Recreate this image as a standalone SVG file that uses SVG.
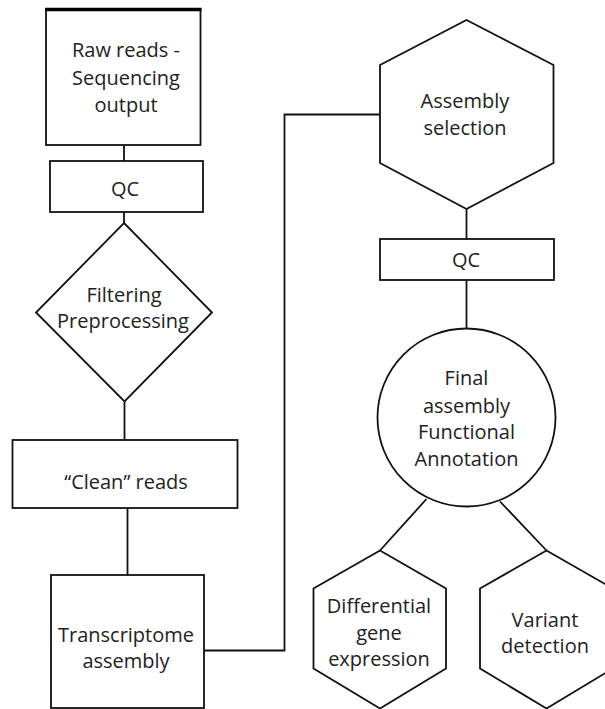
<svg xmlns="http://www.w3.org/2000/svg" width="605" height="709" viewBox="0 0 605 709">
<style>
.s{fill:#fff;stroke:#111;stroke-width:1.8}
.c{fill:none;stroke:#111;stroke-width:1.8}
text{font-family:"Open Sans","DejaVu Sans",sans-serif;font-size:20px;fill:#222;text-anchor:middle}
</style>
<rect width="605" height="709" fill="#fff"/>
<g id="connectors">
<line class="c" x1="124" y1="145" x2="124" y2="161"/>
<line class="c" x1="124" y1="212" x2="124" y2="223"/>
<line class="c" x1="124.5" y1="401.5" x2="124.5" y2="440"/>
<line class="c" x1="127.5" y1="508" x2="127.5" y2="575"/>
<polyline class="c" points="204,650.5 284.5,650.5 284.5,114.5 380,114.5"/>
<line class="c" x1="466.5" y1="209" x2="466.5" y2="239"/>
<line class="c" x1="466.5" y1="280" x2="466.5" y2="328.5"/>
<line class="c" x1="426.5" y1="499" x2="380" y2="550.5"/>
<line class="c" x1="500" y1="501.5" x2="546.5" y2="550.5"/>
</g>
<g id="raw-reads">
<rect class="s" x="46" y="9.5" width="154.5" height="135.5"/>
<line x1="45" y1="9.5" x2="201.5" y2="9.5" stroke="#000" stroke-width="3.5"/>
<text x="126" y="57">Raw reads -</text>
<text x="126" y="85">Sequencing</text>
<text x="126" y="112">output</text>
</g>
<g id="qc1">
<rect class="s" x="50" y="161" width="153" height="51"/>
<text x="125" y="196">QC</text>
</g>
<g id="filtering">
<polygon class="s" points="124,223 212,312.5 124.5,401.5 36,312.5"/>
<text x="124" y="302">Filtering</text>
<text x="123" y="328">Preprocessing</text>
</g>
<g id="clean-reads">
<rect class="s" x="12.5" y="440" width="225" height="68"/>
<text x="126" y="489">“Clean” reads</text>
</g>
<g id="transcriptome">
<rect class="s" x="51" y="575" width="153" height="133"/>
<text x="126" y="642">Transcriptome</text>
<text x="126" y="668">assembly</text>
</g>
<g id="assembly-selection">
<polygon class="s" points="466.5,20 553.5,65 553.5,163 466.5,209 380,163 380,65"/>
<text x="465" y="108">Assembly</text>
<text x="465" y="135">selection</text>
</g>
<g id="qc2">
<rect class="s" x="380" y="239" width="174" height="41"/>
<text x="466" y="267">QC</text>
</g>
<g id="final-assembly">
<circle class="s" cx="466.5" cy="417.5" r="89"/>
<text x="466.5" y="385">Final</text>
<text x="466.5" y="413">assembly</text>
<text x="466.5" y="439">Functional</text>
<text x="466.5" y="466">Annotation</text>
</g>
<g id="differential">
<polygon class="s" points="380,550.5 446,588.5 446,668.5 380,708.5 313.5,668.5 313.5,588.5"/>
<text x="379" y="613">Differential</text>
<text x="379" y="640">gene</text>
<text x="379" y="666">expression</text>
</g>
<g id="variant">
<polygon class="s" points="546.5,550.5 613,588.5 613,668.5 546.5,708.5 480,668.5 480,588.5"/>
<text x="545" y="627">Variant</text>
<text x="545" y="653">detection</text>
</g>
</svg>
